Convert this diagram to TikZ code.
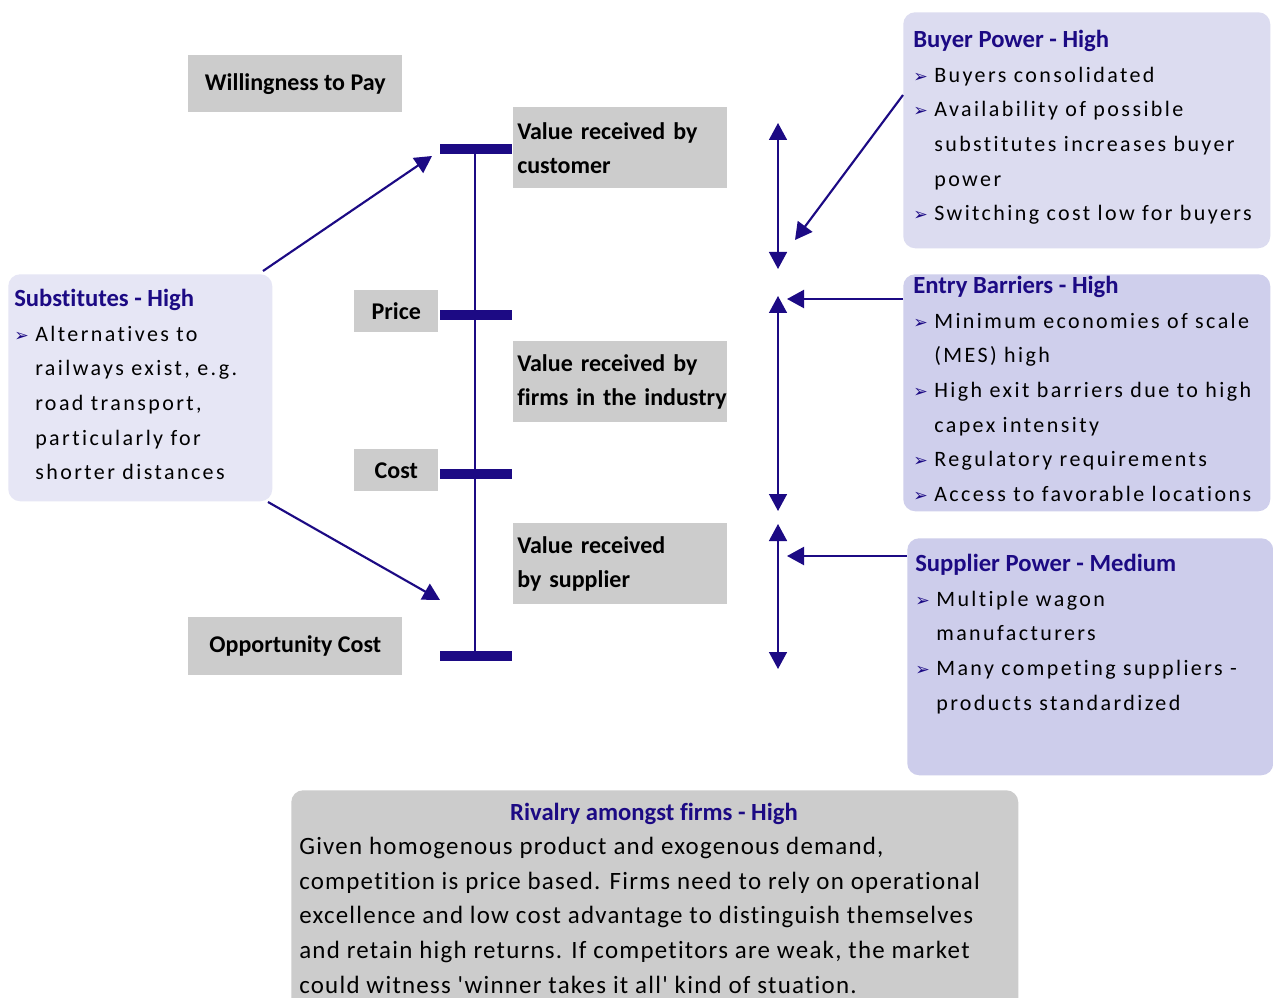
\documentclass[tikz,border=0pt]{standalone}
\usepackage{fontspec}
\setmainfont{Carlito}[Ligatures={TeX,CommonOff}]
\newfontfamily\bodyff{Carlito}[LetterSpace=11,Ligatures=CommonOff]
\newfontfamily\rivff{Carlito}[LetterSpace=5,Ligatures={TeXOff,CommonOff}]
\newfontfamily\symff{DejaVu Sans}
\usetikzlibrary{arrows.meta}
\definecolor{navy}{HTML}{1C0A84}
\definecolor{boxgray}{HTML}{CCCCCC}
\definecolor{buyfill}{HTML}{DCDCF0}
\definecolor{entfill}{HTML}{CFCFEC}
\definecolor{supfill}{HTML}{CDCDEB}
\definecolor{subfill}{HTML}{E6E6F5}
\newcommand\ttl[1]{{\rmfamily\fontsize{18.5}{26}\selectfont\bfseries\color{navy}#1}}
\newcommand\itm{\makebox[15.75pt][l]{\raisebox{0pt}{\symff\fontsize{13}{10}\selectfont\color{navy}➢}}}
\newcommand\cnt{\hspace*{15.75pt}}
\tikzset{
  lbl/.style={fill=boxgray, inner sep=0, anchor=north west, font=\fontsize{18}{25.5}\selectfont\bfseries},
  lbll/.style={lbl, align=left, inner xsep=3pt, text width=154.5pt, minimum width=160.5pt, minimum height=60.75pt},
  sidebox/.style={rounded corners=9pt, inner sep=0, anchor=north west},
  txt/.style={inner sep=0, anchor=north west, align=left, font=\bodyff\fontsize{16.5}{26}\selectfont},
  bar/.style={fill=navy, inner sep=0, minimum width=54pt, minimum height=7.5pt},
  tip/.style={-{Triangle[length=12.75pt,width=13.5pt]}},
  dbl/.style={{Triangle[length=12.75pt,width=13.5pt]}-{Triangle[length=12.75pt,width=13.5pt]}, draw=navy, line width=1.1pt},
  conn/.style={tip, draw=navy, line width=1.6pt},
}
\begin{document}
\begin{tikzpicture}[x=0.75pt,y=-0.75pt]
\clip (0,0) rectangle (1273,998);
\useasboundingbox (0,0) rectangle (1273,998);
\fill[white] (0,0) rectangle (1273,998);
% left value ladder
\node[lbl, minimum width=160.5pt, minimum height=42.75pt] (wtp) at (188,55) {\raisebox{1.5pt}{Willingness to Pay}};
\node[lbl, minimum width=63pt, minimum height=31.5pt] (price) at (354,290) {Price};
\node[lbl, minimum width=63pt, minimum height=31.5pt] (cost) at (354,449) {Cost};
\node[lbl, minimum width=160.5pt, minimum height=43.5pt] (opp) at (188,617) {Opportunity Cost};
\node[lbll] (vcust) at (513,107) {Value received by\\customer};
\node[lbll] (vfirm) at (513,341) {Value received by\\\mbox{firms in the industry}};
\node[lbll] (vsup) at (513,523) {Value received\\by supplier};
\draw[navy, line width=1pt] (475,149) -- (475,656);
\node[bar] (b1) at (476,149) {};
\node[bar] (b2) at (476,315) {};
\node[bar] (b3) at (476,474) {};
\node[bar] (b4) at (476,656) {};
% double arrows
\coordinate (d1t) at (778,123); \coordinate (d1b) at (778,269);
\coordinate (d2t) at (778,296); \coordinate (d2b) at (778,511);
\coordinate (d3t) at (778,524); \coordinate (d3b) at (778,669);
\draw[dbl] (d1t) -- (d1b);
\draw[dbl] (d2t) -- (d2b);
\draw[dbl] (d3t) -- (d3b);
% side boxes
\node[sidebox, fill=buyfill, minimum width=275.25pt, minimum height=177pt] (buyer) at (903,12) {};
\node[sidebox, fill=entfill, minimum width=275.25pt, minimum height=177.75pt] (entry) at (903,274) {};
\node[sidebox, fill=supfill, minimum width=274.5pt, minimum height=177.75pt] (supp) at (907,538) {};
\node[sidebox, fill=subfill, minimum width=198pt, minimum height=170.25pt] (subst) at (8,274) {};
\node[sidebox, fill=boxgray, minimum width=545.25pt, minimum height=170pt] (rival) at (291,790) {};
\node[txt] (buyertxt) at (913,30) {\ttl{Buyer Power - High}\\
\itm Buyers consolidated\\
\itm Availability of possible\\
\cnt substitutes increases buyer\\
\cnt power\\
\itm Switching cost low for buyers};
\node[txt] (entrytxt) at (913,276) {\ttl{Entry Barriers - High}\\
\itm Minimum economies of scale\\
\cnt (MES) high\\
\itm High exit barriers due to high\\
\cnt capex intensity\\
\itm Regulatory requirements\\
\itm Access to favorable locations};
\node[txt] (supptxt) at (915,554) {\ttl{Supplier Power - Medium}\\
\itm Multiple wagon\\
\cnt manufacturers\\
\itm Many competing suppliers -\\
\cnt products standardized};
\node[txt] (substtxt) at (14,289) {\ttl{Substitutes - High}\\
\itm Alternatives to\\
\cnt railways exist, e.g.\\
\cnt road transport,\\
\cnt particularly for\\
\cnt shorter distances};
\node[inner sep=0, anchor=north] (rivtitle) at (654,803) {\ttl{Rivalry amongst firms - High}};
\node[txt, font=\rivff\fontsize{18.7}{26}\selectfont] (rivtxt) at (299,837) {Given homogenous product and exogenous demand,\\
competition is price based. Firms need to rely on operational\\
excellence and low cost advantage to distinguish themselves\\
and retain high returns. If competitors are weak, the market\\
could witness 'winner takes it all' kind of stuation.};
% connectors
\coordinate (s1) at (263,271); \coordinate (s1e) at (432,156);
\coordinate (s2) at (268,502); \coordinate (s2e) at (440,600);
\draw[conn] (s1) -- (s1e);
\draw[conn] (s2) -- (s2e);
\coordinate (bye) at (795,240);
\draw[conn] (buyer.west |- 0,95) -- (bye);
\coordinate (ene) at (787,299);
\draw[conn] (entry.west |- 0,299) -- (ene);
\coordinate (spe) at (787,556);
\draw[conn] (supp.west |- 0,556) -- (spe);
\end{tikzpicture}
\end{document}
